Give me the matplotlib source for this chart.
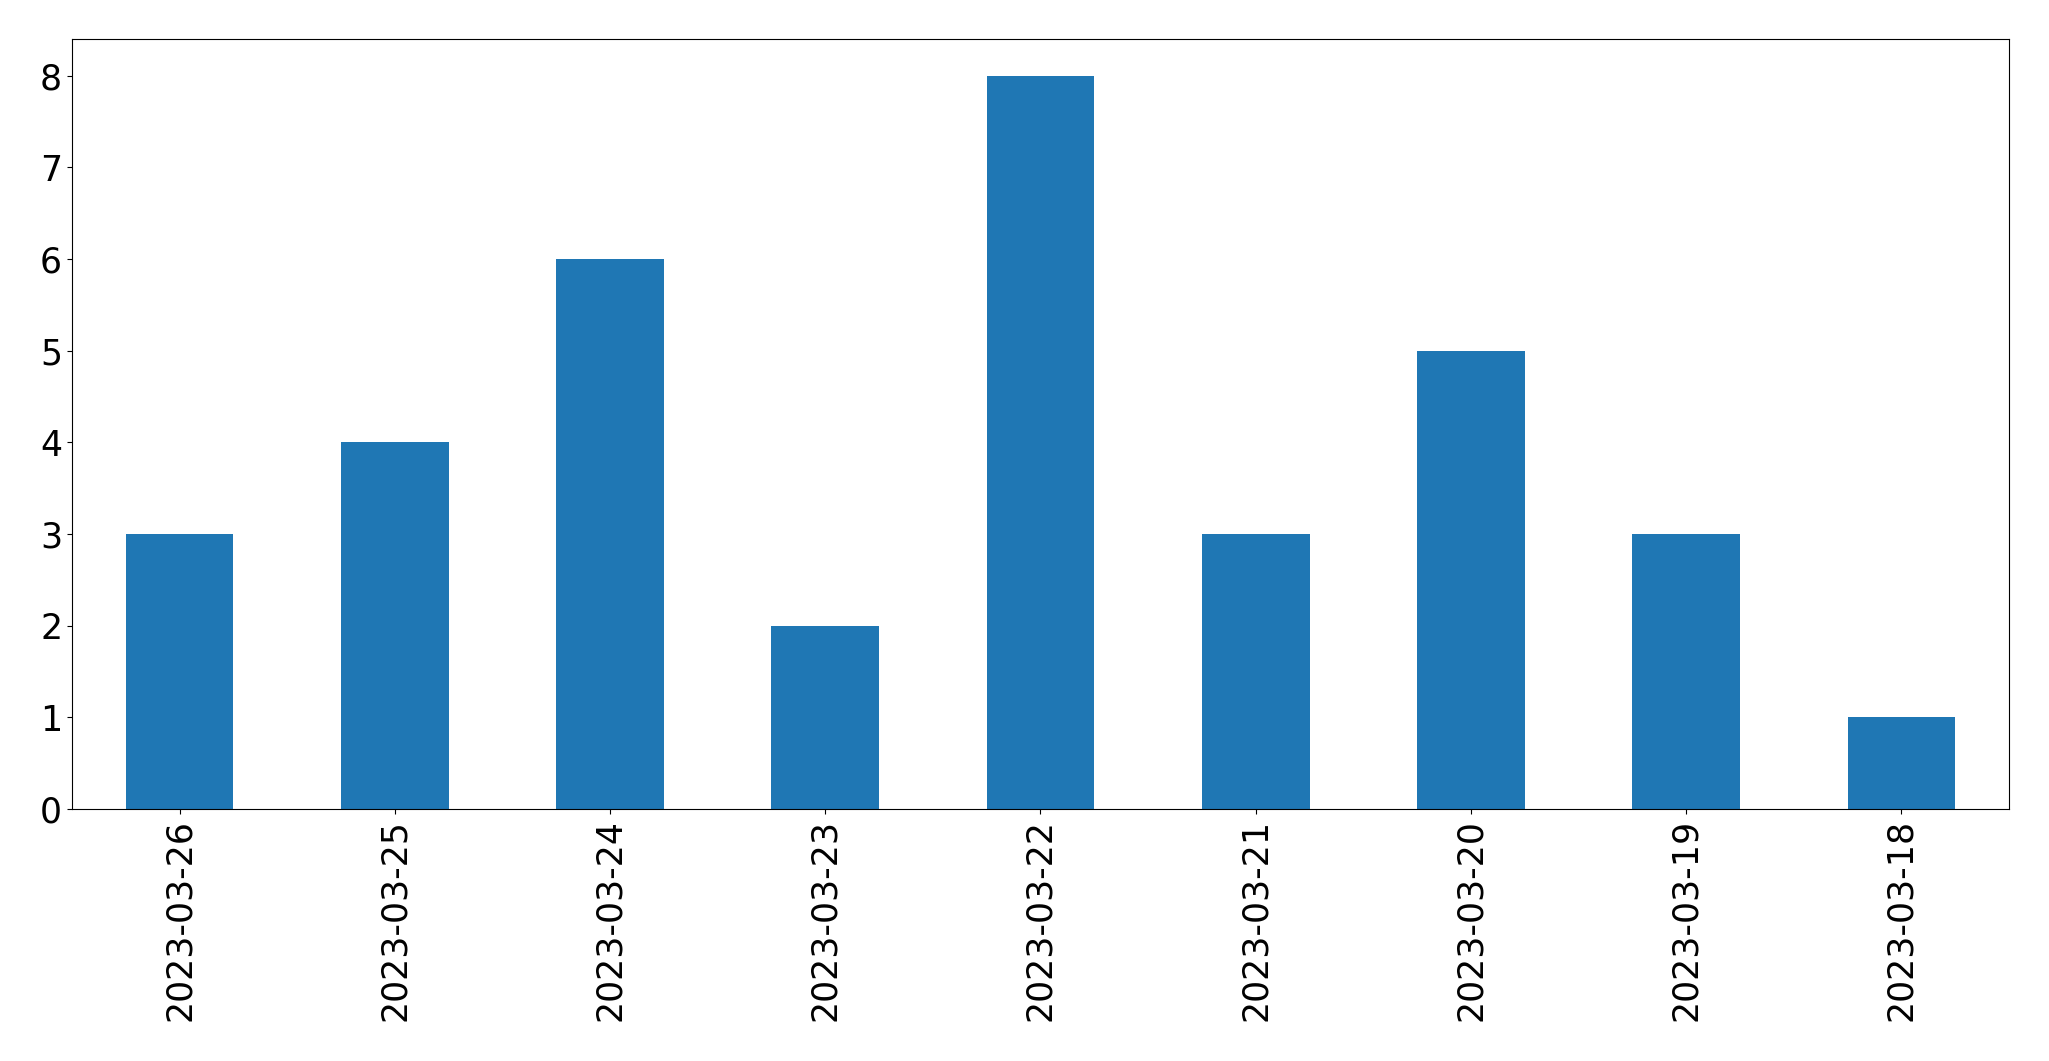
import matplotlib
matplotlib.use('Agg')
import matplotlib.pyplot as plt
import pandas as pd

dates = ['2023-03-26', '2023-03-25', '2023-03-24', '2023-03-23', '2023-03-22',
         '2023-03-21', '2023-03-20', '2023-03-19', '2023-03-18']
counts = [3, 4, 6, 2, 8, 3, 5, 3, 1]

series = pd.Series(counts, index=dates)

fig, ax = plt.subplots(figsize=(20.49, 10.61), dpi=100)
series.plot(kind='bar', ax=ax, color='#1f77b4', fontsize=25)
ax.tick_params(axis='both', labelsize=25)

fig.subplots_adjust(left=0.0351, right=0.9805, bottom=0.2375, top=0.9632)
fig.savefig('out.png', dpi=100)
